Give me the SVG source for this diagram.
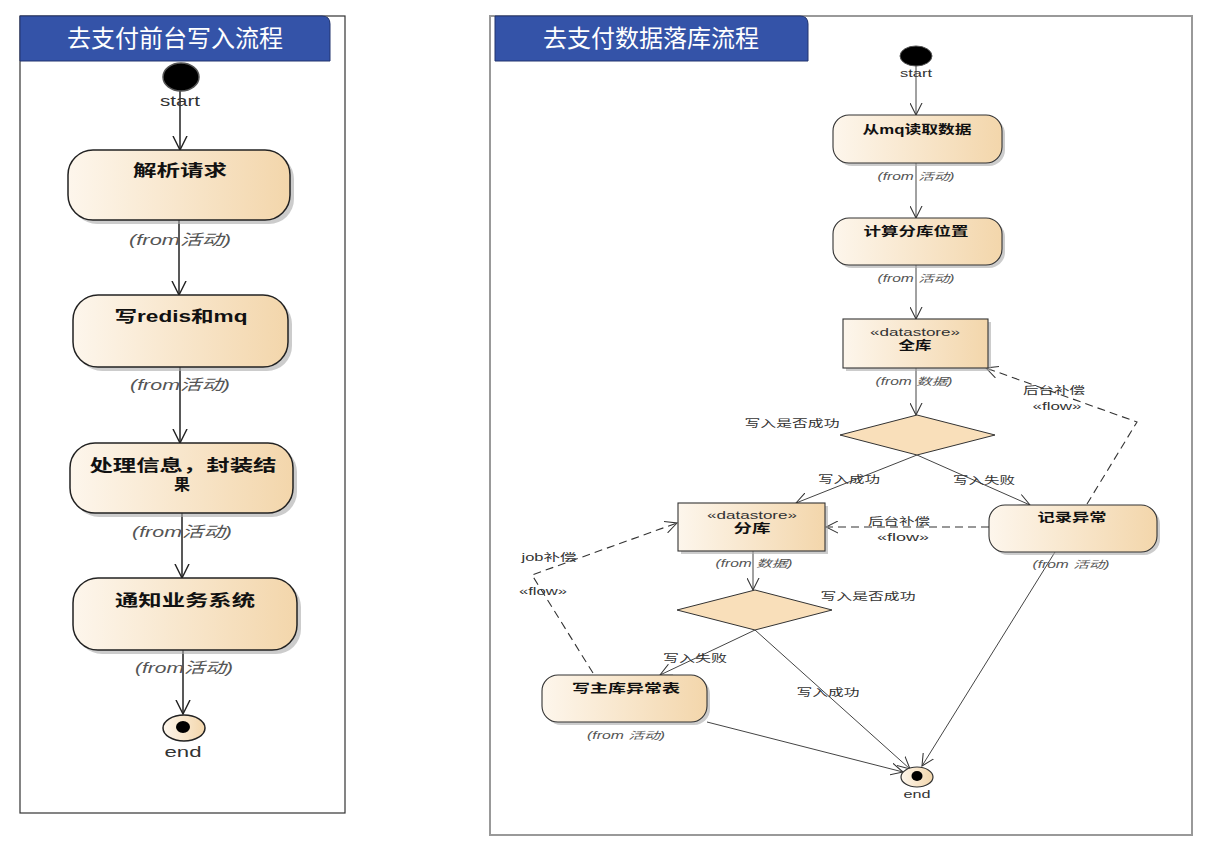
<svg xmlns="http://www.w3.org/2000/svg" width="1211" height="853" viewBox="0 0 1211 853">
<defs>
<linearGradient id="g" x1="0" y1="0" x2="1" y2="0">
<stop offset="0" stop-color="#fdf6ec"/>
<stop offset="1" stop-color="#f3d6ab"/>
</linearGradient>
<marker id="aL" viewBox="0 0 16 16" refX="15" refY="8" markerWidth="15" markerHeight="16" markerUnits="userSpaceOnUse" orient="auto">
<path d="M0,0.5 L15,8 L0,15.5" fill="none" stroke="#222" stroke-width="1.5"/>
</marker>
<marker id="aR" viewBox="0 0 16 16" refX="15" refY="8" markerWidth="13" markerHeight="13" markerUnits="userSpaceOnUse" orient="auto">
<path d="M0,0.5 L15,8 L0,15.5" fill="none" stroke="#333" stroke-width="1.3"/>
</marker>
</defs>
<style>
.frame{fill:#fff;stroke:#333;stroke-width:1.2}
.frameR{fill:#fff;stroke:#999;stroke-width:2}
.tab{fill:#3453a8;stroke:#22356e;stroke-width:1}
.title{font-family:"Liberation Sans","Noto Sans CJK SC",sans-serif;font-size:24px;fill:#fff;text-anchor:middle}
.act{fill:url(#g);stroke:#222;stroke-width:1.5}
.actR{fill:url(#g);stroke:#333;stroke-width:1.1}
.shadow{fill:#aaa;opacity:0.6}
.lbl{font-family:"Liberation Sans","Noto Sans CJK SC",sans-serif;font-weight:bold;fill:#111;text-anchor:middle}
.from{font-family:"Liberation Sans","Noto Sans CJK SC",sans-serif;font-style:italic;fill:#555;text-anchor:middle}
.small{font-family:"Liberation Sans","Noto Sans CJK SC",sans-serif;fill:#333;text-anchor:middle}
.lineL{stroke:#222;stroke-width:1.5;fill:none}
.lineR{stroke:#444;stroke-width:1;fill:none}
.dash{stroke:#333;stroke-width:1.1;fill:none;stroke-dasharray:8,5}
</style>

<!-- Left frame -->
<g id="frameLeft">
<rect class="frame" x="20" y="16" width="325" height="797"/>
<path class="tab" d="M20,61 L20,16 L322,16 Q330,16 330,24 L330,61 Z"/>
<text class="title" x="175" y="47">去支付前台写入流程</text>
</g>

<!-- Right frame -->
<g id="frameRight">
<rect class="frameR" x="490" y="16" width="702" height="819"/>
<path class="tab" d="M495,61 L495,16 L800,16 Q808,16 808,24 L808,61 Z"/>
<text class="title" x="651" y="47">去支付数据落库流程</text>
</g>

<!-- connectors -->
<g id="connectors">
<line class="lineL" x1="180" y1="91" x2="180" y2="150" marker-end="url(#aL)"/>
<line class="lineL" x1="179" y1="220" x2="179" y2="295" marker-end="url(#aL)"/>
<line class="lineL" x1="180" y1="367" x2="180" y2="443" marker-end="url(#aL)"/>
<line class="lineL" x1="182" y1="513" x2="182" y2="578" marker-end="url(#aL)"/>
<line class="lineL" x1="183" y1="650" x2="183" y2="714" marker-end="url(#aL)"/>

<line class="lineR" x1="916" y1="65" x2="916" y2="115" marker-end="url(#aR)"/>
<line class="lineR" x1="916" y1="163" x2="916" y2="218" marker-end="url(#aR)"/>
<line class="lineR" x1="916" y1="265" x2="916" y2="319" marker-end="url(#aR)"/>
<line class="lineR" x1="916" y1="368" x2="916" y2="415" marker-end="url(#aR)"/>
<line class="lineR" x1="917" y1="455" x2="796" y2="503" marker-end="url(#aR)"/>
<line class="lineR" x1="917" y1="455" x2="1030" y2="505" marker-end="url(#aR)"/>
<line class="lineR" x1="753" y1="551" x2="753" y2="590" marker-end="url(#aR)"/>
<line class="lineR" x1="755" y1="630" x2="660" y2="675" marker-end="url(#aR)"/>
<line class="lineR" x1="755" y1="630" x2="910" y2="769" marker-end="url(#aR)"/>
<line class="lineR" x1="707" y1="722" x2="903" y2="772" marker-end="url(#aR)"/>
<line class="lineR" x1="1055" y1="552" x2="922" y2="766" marker-end="url(#aR)"/>

<polyline class="dash" points="1087,504 1137,422 986,368" marker-end="url(#aR)"/>
<line class="dash" x1="989" y1="527" x2="826" y2="527" marker-end="url(#aR)"/>
<polyline class="dash" points="593,673 532,575 677,523" marker-end="url(#aR)"/>

<text class="small" font-size="10" x="792" y="427" textLength="95" lengthAdjust="spacingAndGlyphs">写入是否成功</text>
<text class="small" font-size="10" x="849" y="483" textLength="62" lengthAdjust="spacingAndGlyphs">写入成功</text>
<text class="small" font-size="10" x="984" y="484" textLength="62" lengthAdjust="spacingAndGlyphs">写入失败</text>
<text class="small" font-size="10" x="868" y="600" textLength="95" lengthAdjust="spacingAndGlyphs">写入是否成功</text>
<text class="small" font-size="10" x="695" y="662" textLength="64" lengthAdjust="spacingAndGlyphs">写入失败</text>
<text class="small" font-size="10" x="828" y="696" textLength="63" lengthAdjust="spacingAndGlyphs">写入成功</text>
<text class="small" font-size="10" x="1054" y="394" textLength="62" lengthAdjust="spacingAndGlyphs">后台补偿</text>
<text class="small" font-size="10" x="1057" y="410" textLength="49" lengthAdjust="spacingAndGlyphs">«flow»</text>
<text class="small" font-size="10" x="899" y="525" textLength="62" lengthAdjust="spacingAndGlyphs">后台补偿</text>
<text class="small" font-size="10" x="903" y="541" textLength="52" lengthAdjust="spacingAndGlyphs">«flow»</text>
<text class="small" font-size="10" x="549" y="561" textLength="55" lengthAdjust="spacingAndGlyphs">job补偿</text>
<text class="small" font-size="10" x="543" y="595" textLength="48" lengthAdjust="spacingAndGlyphs">«flow»</text>
</g>

<!-- Left nodes -->
<g id="startL">
<ellipse cx="181" cy="77" rx="18" ry="14" fill="#000" stroke="#555" stroke-width="1.5"/>
<text class="small" font-size="15" x="180" y="106" textLength="40" lengthAdjust="spacingAndGlyphs">start</text>
</g>
<g id="n1">
<rect class="shadow" x="72" y="154" width="222" height="70" rx="25"/>
<rect class="act" x="68" y="150" width="222" height="70" rx="25"/>
<text class="lbl" font-size="16" x="180" y="176" textLength="94" lengthAdjust="spacingAndGlyphs">解析请求</text>
<text class="from" font-size="15" x="180" y="245" textLength="102" lengthAdjust="spacingAndGlyphs">(from活动)</text>
</g>
<g id="n2">
<rect class="shadow" x="77" y="299" width="215" height="72" rx="25"/>
<rect class="act" x="73" y="295" width="215" height="72" rx="25"/>
<text class="lbl" font-size="16" x="181" y="322" textLength="133" lengthAdjust="spacingAndGlyphs">写redis和mq</text>
<text class="from" font-size="15" x="180" y="390" textLength="100" lengthAdjust="spacingAndGlyphs">(from活动)</text>
</g>
<g id="n3">
<rect class="shadow" x="74" y="447" width="223" height="70" rx="25"/>
<rect class="act" x="70" y="443" width="223" height="70" rx="25"/>
<text class="lbl" font-size="16" x="183" y="471" textLength="187" lengthAdjust="spacingAndGlyphs">处理信息，封装结</text>
<text class="lbl" font-size="16" x="182" y="490">果</text>
<text class="from" font-size="15" x="182" y="537" textLength="100" lengthAdjust="spacingAndGlyphs">(from活动)</text>
</g>
<g id="n4">
<rect class="shadow" x="77" y="582" width="224" height="72" rx="25"/>
<rect class="act" x="73" y="578" width="224" height="72" rx="25"/>
<text class="lbl" font-size="16" x="185" y="606" textLength="140" lengthAdjust="spacingAndGlyphs">通知业务系统</text>
<text class="from" font-size="15" x="184" y="673" textLength="98" lengthAdjust="spacingAndGlyphs">(from活动)</text>
</g>
<g id="endL">
<ellipse cx="184" cy="728" rx="21" ry="13" fill="url(#g)" stroke="#222" stroke-width="1.5"/>
<ellipse cx="183" cy="727" rx="7" ry="6" fill="#000"/>
<text class="small" font-size="15" x="183" y="757" textLength="37" lengthAdjust="spacingAndGlyphs">end</text>
</g>

<!-- Right nodes -->
<g id="startR">
<ellipse cx="916" cy="56" rx="16" ry="10" fill="#000" stroke="#555" stroke-width="1"/>
<text class="small" font-size="10" x="916" y="77" textLength="32" lengthAdjust="spacingAndGlyphs">start</text>
</g>
<g id="r1">
<rect class="shadow" x="836" y="118" width="169" height="48" rx="16"/>
<rect class="actR" x="833" y="115" width="169" height="48" rx="16"/>
<text class="lbl" font-size="12" x="917" y="134" textLength="109" lengthAdjust="spacingAndGlyphs">从mq读取数据</text>
<text class="from" font-size="10" x="916" y="180" textLength="77" lengthAdjust="spacingAndGlyphs">(from 活动)</text>
</g>
<g id="r2">
<rect class="shadow" x="836" y="221" width="169" height="47" rx="16"/>
<rect class="actR" x="833" y="218" width="169" height="47" rx="16"/>
<text class="lbl" font-size="12" x="916" y="236" textLength="105" lengthAdjust="spacingAndGlyphs">计算分库位置</text>
<text class="from" font-size="10" x="916" y="282" textLength="77" lengthAdjust="spacingAndGlyphs">(from 活动)</text>
</g>
<g id="quanku">
<rect class="shadow" x="846" y="322" width="145" height="49"/>
<rect class="actR" x="843" y="319" width="145" height="49"/>
<text class="small" font-size="11" x="915" y="336" textLength="90" lengthAdjust="spacingAndGlyphs">«datastore»</text>
<text class="lbl" font-size="12" x="915" y="350" textLength="33" lengthAdjust="spacingAndGlyphs">全库</text>
<text class="from" font-size="10" x="914" y="385" textLength="77" lengthAdjust="spacingAndGlyphs">(from 数据)</text>
</g>
<g id="d1">
<polygon points="917,415 995,435 917,455 840,435" fill="#f9dfba" stroke="#333" stroke-width="1"/>
</g>
<g id="fenku">
<rect class="shadow" x="681" y="506" width="147" height="48"/>
<rect class="actR" x="678" y="503" width="147" height="48"/>
<text class="small" font-size="11" x="752" y="519" textLength="90" lengthAdjust="spacingAndGlyphs">«datastore»</text>
<text class="lbl" font-size="12" x="752" y="533" textLength="37" lengthAdjust="spacingAndGlyphs">分库</text>
<text class="from" font-size="10" x="754" y="567" textLength="77" lengthAdjust="spacingAndGlyphs">(from 数据)</text>
</g>
<g id="d2">
<polygon points="755,590 832,610 755,630 677,610" fill="#f9dfba" stroke="#333" stroke-width="1"/>
</g>
<g id="jilu">
<rect class="shadow" x="992" y="508" width="168" height="47" rx="16"/>
<rect class="actR" x="989" y="505" width="168" height="47" rx="16"/>
<text class="lbl" font-size="12" x="1072" y="522" textLength="69" lengthAdjust="spacingAndGlyphs">记录异常</text>
<text class="from" font-size="10" x="1071" y="568" textLength="77" lengthAdjust="spacingAndGlyphs">(from 活动)</text>
</g>
<g id="xiezhu">
<rect class="shadow" x="545" y="678" width="165" height="47" rx="16"/>
<rect class="actR" x="542" y="675" width="165" height="47" rx="16"/>
<text class="lbl" font-size="12" x="626" y="693" textLength="108" lengthAdjust="spacingAndGlyphs">写主库异常表</text>
<text class="from" font-size="10" x="626" y="739" textLength="78" lengthAdjust="spacingAndGlyphs">(from 活动)</text>
</g>
<g id="endR">
<ellipse cx="917" cy="777" rx="16" ry="10" fill="url(#g)" stroke="#333" stroke-width="1.2"/>
<ellipse cx="917" cy="776" rx="5.5" ry="5" fill="#000"/>
<text class="small" font-size="10" x="917" y="798" textLength="27" lengthAdjust="spacingAndGlyphs">end</text>
</g>
</svg>
